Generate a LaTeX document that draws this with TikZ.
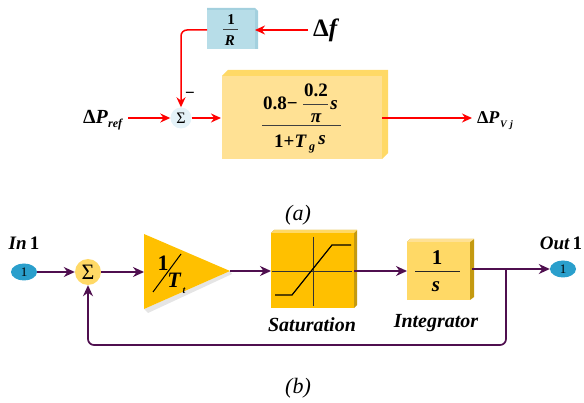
\documentclass[tikz,border=0pt]{standalone}
\usepackage{fontspec}
\setmainfont{Liberation Serif}
\usetikzlibrary{arrows.meta,calc,shapes.geometric}
\definecolor{bluebox}{HTML}{B7DDE8}
\definecolor{blueside}{HTML}{A3D0DE}
\definecolor{paleyellow}{HTML}{FFE194}
\definecolor{midyellow}{HTML}{FFD966}
\definecolor{gold}{HTML}{FFC000}
\definecolor{goldside}{HTML}{C49A10}
\definecolor{plum}{HTML}{4F0F4F}
\definecolor{portblue}{HTML}{2A9FCC}
\definecolor{palesum}{HTML}{E4F2F8}
\tikzset{
  x=1pt,y=-1pt,
  redline/.style={draw=red,line width=1.5pt,-{Stealth[length=10pt,width=9pt]}},
  plumline/.style={draw=plum,line width=1.7pt,-{Stealth[length=11pt,width=10pt]}},
  blockbox/.style={inner sep=0pt,outer sep=0pt,anchor=north west},
  lab/.style={font=\bfseries\itshape,inner sep=0pt},
  num/.style={font=\bfseries,inner sep=0pt},
  captext/.style={font=\fontsize{22}{22}\selectfont\itshape,inner sep=0pt},
  fracbar/.style={draw=black!75,line width=1pt},
  port/.style={ellipse,fill=portblue,minimum width=26pt,minimum height=17pt,inner sep=0pt,font=\fontsize{13}{13}\selectfont},
}
\begin{document}
\begin{tikzpicture}
\useasboundingbox (0,0) rectangle (584,403);
% --- part (a) ---
\fill[blueside] (207,8)--(255,8)--(258,11)--(258,49)--(255,49)--(207,49)--cycle;
\node[blockbox,fill=bluebox,minimum width=48pt,minimum height=39pt] (rbox) at (207,10) {};
\node[num,font=\fontsize{15}{15}\selectfont\bfseries] (rnum) at (231,20) {1};
\draw[fracbar] (223,30) -- (238,30);
\node[lab,font=\fontsize{15}{15}\selectfont\bfseries\itshape] (rden) at (230,41) {R};

\fill[midyellow] (222,76)--(228,70)--(388,70)--(388,153)--(382,159)--cycle;
\node[blockbox,fill=paleyellow,minimum width=160pt,minimum height=83pt] (plant) at (222,76) {};
\node[num,font=\fontsize{19}{19}\selectfont\bfseries,anchor=west] (p08) at (263,103) {0.8−};
\node[num,font=\fontsize{19}{19}\selectfont\bfseries] (p02) at (316,90) {0.2};
\draw[fracbar] (303,104.5) -- (328,104.5);
\node[lab,font=\fontsize{19}{19}\selectfont\bfseries\itshape] (ppi) at (316,118) {π};
\node[lab,font=\fontsize{19}{19}\selectfont\bfseries\itshape] (ps) at (334,105) {s};
\draw[fracbar] (262,126) -- (341,126);
\node[num,font=\fontsize{19}{19}\selectfont\bfseries,anchor=west] (p1t) at (274,141) {1+\textit{T}};
\node[lab,font=\fontsize{12}{12}\selectfont\bfseries\itshape] (pg) at (312,149) {g};
\node[lab,font=\fontsize{19}{19}\selectfont\bfseries\itshape] (ps2) at (322,140) {s};

\node[circle,fill=palesum,minimum size=21pt,inner sep=0pt,font=\fontsize{16}{16}\selectfont] (sumA) at (181,118) {Σ};
\node[lab,anchor=west,font=\fontsize{20}{20}\selectfont\bfseries] (pref) at (83,117) {Δ\textit{P}};
\node[lab,font=\fontsize{12}{12}\selectfont\bfseries\itshape,anchor=west] (prefsub) at (108,125) {ref};
\node[lab,anchor=west,font=\fontsize{25}{25}\selectfont\bfseries] (df) at (313,30) {Δ\textit{f}};
\node[lab,anchor=west,font=\fontsize{18}{18}\selectfont\bfseries] (pvj) at (477,118) {Δ\textit{P}};
\node[lab,font=\fontsize{10}{10}\selectfont\bfseries\itshape,anchor=west] (pvjsub) at (500,125) {V\,\,j};
\node[num,font=\fontsize{17}{17}\selectfont\bfseries] (minus) at (190,95) {−};

\coordinate (prefend) at (128,118);
\coordinate (dfend) at (308,30);
\coordinate (pvjend) at (472,118);
\coordinate (rout) at (207,30);
\coordinate (rin) at (255,30);
\coordinate (plantin) at (221,118);
\coordinate (plantout) at (382,118);
\draw[redline] (prefend) -- (sumA.west);
\draw[redline] (sumA.east) -- (plantin);
\draw[redline] (dfend) -- (rin);
\draw[redline] (plantout) -- (pvjend);
\draw[redline,rounded corners=6pt] (rout) -| (sumA.north);
\node[captext] (capa) at (298,215) {(\textit{a})};

% --- part (b) ---
\node[lab,font=\fontsize{19}{19}\selectfont\bfseries\itshape] (inlab) at (24,243) {In\,\textup{1}};
\node[port] (inport) at (24,272) {1};
\node[circle,fill=midyellow,minimum size=26pt,inner sep=0pt,font=\fontsize{22}{22}\selectfont] (sumB) at (88,272) {Σ};

\fill[black!10] (148,313)--(232,274)--(230,271)--(144,309)--cycle;
\fill[gold] (144,234)--(230,271)--(144,309)--cycle;
\coordinate (triin) at (144,272);
\coordinate (triout) at (230,271);
\node[lab,font=\fontsize{22}{22}\selectfont\bfseries] (tnum) at (163,263) {1};
\draw[black,line width=1pt] (181,254) -- (153,292);
\node[lab,font=\fontsize{22}{22}\selectfont\bfseries\itshape] (tden) at (174,280) {T};
\node[lab,font=\fontsize{10}{10}\selectfont\bfseries\itshape] (tsub) at (184,291) {t};

\fill[goldside] (271,233)--(274,230)--(357,230)--(357,305)--(354,308)--cycle;
\fill[midyellow] (271,233)--(274,230)--(357,230)--(354,233)--cycle;
\node[blockbox,fill=gold,minimum width=83pt,minimum height=75pt] (sat) at (271,233) {};
\draw[black!80,line width=.9pt] (272,271) -- (352,271);
\draw[black!80,line width=.9pt] (313,237) -- (313,306);
\draw[black,line width=1.2pt] (275,295) -- (292,295) -- (332,245) -- (351,245);
\node[lab,font=\fontsize{20}{20}\selectfont\bfseries\itshape] (satlab) at (312,325) {Saturation};

\fill[goldside] (407,242)--(410,239)--(474,239)--(474,297)--(470,300)--cycle;
\fill[paleyellow] (407,242)--(410,239)--(474,239)--(470,242)--cycle;
\node[blockbox,fill=midyellow,minimum width=63pt,minimum height=58pt] (integ) at (407,242) {};
\node[num,font=\fontsize{21}{21}\selectfont\bfseries] (inum) at (437,258) {1};
\draw[fracbar,black!85] (415,272) -- (460,272);
\node[lab,font=\fontsize{21}{21}\selectfont\bfseries\itshape] (iden) at (436,287) {s};
\node[lab,font=\fontsize{20}{20}\selectfont\bfseries\itshape] (intlab) at (436,323) {Integrator};

\node[lab,font=\fontsize{19}{19}\selectfont\bfseries\itshape] (outlab) at (561,243) {Out\,\textup{1}};
\node[port] (outport) at (563,269) {1};

\coordinate (satin) at (271,271);
\coordinate (satout) at (354,271);
\coordinate (intin) at (407,271);
\coordinate (intout) at (472,269);
\coordinate (tap) at (506,269);
\coordinate (bot) at (506,345);
\draw[plumline] (inport) -- (sumB);
\draw[plumline] (sumB) -- (triin);
\draw[plumline] (triout) -- (satin);
\draw[plumline] (satout) -- (intin);
\draw[plumline] (intout) -- (outport);
\draw[plumline,rounded corners=6pt] (tap) -- (bot) -| (sumB);
\node[captext] (capb) at (298,388) {(\textit{b})};
\end{tikzpicture}
\end{document}
